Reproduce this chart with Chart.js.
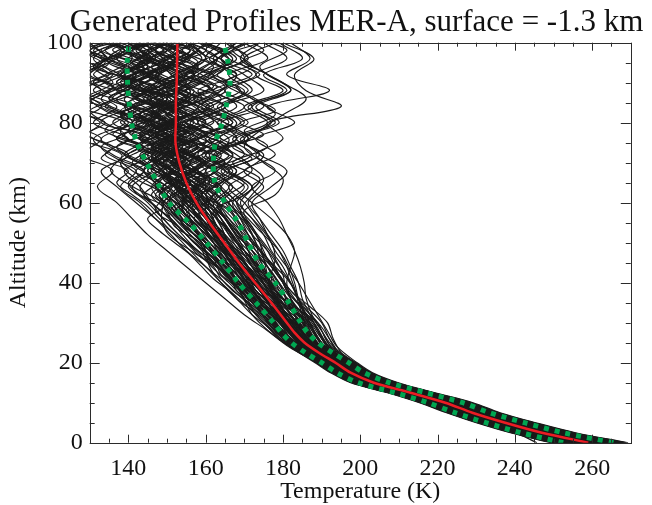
<!DOCTYPE html>
<html>
<head>
<meta charset="utf-8">
<script src="https://cdn.jsdelivr.net/npm/chart.js@4.4.1/dist/chart.umd.min.js"></script>
<style>
  html, body { margin: 0; padding: 0; background: #fff; }
  #wrap { width: 652px; height: 505px; }
</style>
</head>
<body>
<div id="wrap"><canvas id="myChart"></canvas></div>
<script>
// altitude levels (km) of the mean / sigma curves
var statAlts = [0, 2.5, 5, 7.5, 10, 12.5, 15, 17.5, 20, 22.5, 25, 27.5, 30, 35, 40, 45, 50, 55, 60, 65, 70, 75, 80, 85, 90, 95, 100];
// mean profile and mean -/+ 1 sigma (K)
var meanT = [259, 247, 237.5, 229, 222, 213, 203.5, 197.5, 193.6, 189.3, 185.6, 183, 181, 177, 172.8, 168.6, 164.8, 161, 157.6, 155, 153.2, 152.2, 152.3, 152.3, 152.5, 152.6, 152.7];
var loT = [252.5, 241.5, 232.5, 224.5, 217.5, 209, 199.5, 194, 190, 185.8, 182.2, 179.6, 177.6, 173, 168.5, 164.5, 160.2, 155.7, 150.5, 147.5, 144.7, 142.2, 140.8, 140.2, 139.8, 139.7, 140.2];
var hiT = [265.5, 252.5, 242.5, 233.5, 226.5, 217, 207.5, 201, 197, 192.8, 189, 186.4, 184.6, 181.5, 178, 173.7, 171, 168.4, 165, 162.4, 162, 162.5, 164.3, 165.5, 166.3, 165.8, 164.7];

// altitude levels (km) of the generated profiles, three sampling grids
var profAltsA = [0, 2.5, 5, 7.5, 10, 12.5, 15, 17.5, 20, 24, 28, 32, 36, 40, 44, 48, 52, 56, 60, 64, 68, 72, 76, 80, 84, 88, 92, 96, 100];
var profAltsB = [0, 2.5, 5, 7.5, 10, 12.5, 15, 17.5, 20, 22, 26, 30, 34, 38, 42, 46, 50, 54, 58, 62, 66, 70, 74, 78, 82, 86, 90, 94, 98, 100];
var profAltsC = [0, 2.5, 5, 7.5, 10, 12.5, 15, 17.5, 20, 23, 26, 29, 32, 35, 38, 41, 44, 47, 50, 53, 56, 59, 62, 65, 68, 71, 74, 77, 80, 83, 86, 89, 92, 95, 98, 100];

// generated profiles (K) on grid A
var profilesA = [
  [249.3,238.8,230,222.3,215.3,207,197.5,192.3,188.3, 181.8,176.2,172,169.8,167.4,162.7,156.2,150.4,148.6,148.5,141.2,135.4,138.3,128.2,132.7,124.8,132.9,126.5,134.4,129],
  [249.7,239.2,230.4,222.7,215.7,207.4,197.9,192.7,188.7, 182.5,178,174.5,171,166.5,163,159.5,155,151,146,143,147,139,145,136,142,131,139,146,138],
  [250.5,239.9,231,223.2,216.2,207.8,198.3,193,189, 183,178.5,175,172,169,165,160,156,153,150,155,148,143,150,141,149,156,146,140,151],
  [250.9,240.3,231.4,223.6,216.6,208.2,198.7,193.4,189.4, 184,180,176.5,173.5,170,166,162,158.5,155.5,152,147,142,149,137,144,133,140,130,137,145],
  [251.9,241,232,224,217,208.6,199.1,193.7,189.7, 183.5,179,176,172.5,168,163.5,158,154,150.5,146,140,144,136,131,139,128,135,142,133,127],
  [252.3,241.4,232.4,224.4,217.4,209,199.5,194.1,190.1, 185,181,177.5,174,171,167.5,164,160,156,152,149,155,147,158,150,162,154,147,156,149],
  [253.2,242,233,225,218,209.4,199.9,194.4,190.4, 184.5,180,176,171.5,167,164,161,157,154,151,147,152,157,149,160,153,145,152,160,155],
  [253.6,242.4,233.4,225.4,218.4,209.8,200.3,194.8,190.8, 185.5,181.5,178.5,175.5,173,170,166,161,157,154,158,152,146,154,147,139,146,154,144,150],
  [254.5,243.2,234,225.9,218.9,210.2,200.7,195.1,191, 184,179.5,175,170,166,161.5,157.5,153,149,145,141,146,139,133,141,135,127,134,141,136],
  [254.9,243.6,234.4,226.3,219.3,210.6,201.1,195.5,191.4, 186,182,179,176,172.5,169,165,163,160,157,152,159,164,156,166,158,150,160,167,159],
  [255.8,244.3,235,226.8,219.8,211,201.5,195.8,191.8, 185,181,178,175.5,173,171,168,165,161,156,152,148,155,143,150,158,148,157,151,143],
  [256.2,244.7,235.4,227.2,220.2,211.4,201.9,196.2,192.2, 186.5,183,180.5,177.5,174,171,168.5,166,163,160,164,157,161,153,146,155,162,152,146,154],
  [257,245.4,236,227.7,220.7,211.8,202.3,196.5,192.5, 185.5,181,177,173,169,164.5,161,157,152,149,154,151,147,155,145,151,157,148,155,160],
  [257.4,245.8,236.4,228.1,221.1,212.2,202.7,196.9,192.9, 187,184,182,180,178,176,174,171,168,165,161,166,160,170,163,172,165,173,166,160],
  [258.4,246.5,237,228.6,221.6,212.6,203.1,197.2,193.2, 186,181.5,178,174,170.5,166,162,158,155.5,153,150,145,152,146,157,148,137,145,152,147],
  [258.8,246.9,237.4,229,222,213,203.5,197.6,193.6, 186.5,182,179,176,173,170,167,164,160,157,153,158,151,161,155,164,170,161,168,160],
  [259.7,247.6,238,229.5,222.5,213.4,203.9,197.9,193.9, 187,183,180.5,178,175,172,170,168,165,161,157,153,160,151,162,157,150,158,163,156],
  [260.1,248,238.4,229.9,222.9,213.8,204.3,198.3,194.3, 188,184.5,181,177.5,173.5,169,165,162,159,156,162,168,160,171,164,175,169,162,171,165],
  [261,248.7,239,230.4,223.4,214.2,204.7,198.6,194.6, 187.5,183,180,176.5,172,168,164.5,161,158.5,155,151,156,150,145,153,147,140,148,143,149],
  [261.4,249.1,239.4,230.8,223.8,214.6,205.1,199,195, 189,186,184,182,180,178,176,173,170,167,164,170,175,168,178,171,182,176,169,174],
  [262.3,249.8,240,231.3,224.3,215,205.5,199.3,195.3, 188,184,181,178.5,175.5,172.5,169,165,161,158,160,156,163,158,167,160,169,163,170,166],
  [262.7,250.2,240.4,231.7,224.7,215.4,205.9,199.7,195.7, 189.5,186.5,184,181,178,174,170,167,164,160,157,162,155,150,158,152,144,152,159,153],
  [263.6,250.9,241,232.2,225.2,215.8,206.3,200,196, 189,185,182,179,176,173,170,167,164,162,166,160,167,163,171,165,175,170,164,171],
  [264,251.3,241.4,232.6,225.6,216.2,206.7,200.4,196.4, 190.5,188,186,184,182,180,177,175,172,169,172,166,161,168,158,165,155,162,151,157],
  [264.9,252,242,233.1,226.1,216.6,207.1,200.7,196.7, 189.5,185.5,182,178.5,174.5,171,167.5,164,162,160,157,163,167,160,169,164,172,167,162,168],
  [265.3,252.4,242.4,233.5,226.5,217,207.5,201.1,197.1, 190,187,184.5,182,180,177,174,171,168,166,170,164,172,167,176,170,180,173,181,175],
  [266.2,253.1,243,234,227,217.4,207.9,201.4,197.4, 190,186,183,180,177,174.5,172,169.5,167,163,160,165,159,168,163,158,165,155,160,156],
  [266.6,253.5,243.4,234.4,227.4,217.8,208.3,201.8,197.8, 191.5,189,187,185,184,182,180,177,174,171,175,170,178,173,183,176,192,181,187,182],
  [267.5,254.2,244,234.9,227.9,218.2,208.7,202.1,198.1, 191,188,185,182,179,176,173,171,169,167,171,166,174,169,179,173,182,176,170,178],
  [267.9,254.6,244.4,235.3,228.3,218.6,209.1,202.5,198.5, 192.5,190,187,184,182,179,176,172,169,166,163,168,162,171,165,159,164,168,160,164],
  [268.8,255.3,245,235.8,228.8,219,209.5,202.8,198.8, 193,190,187.5,186,185.5,184.5,183,181,179,176,172,178,173,180,176,195,186,183,188,180],
  [269.3,255.7,245.4,236.2,229.2,219.4,209.9,203.2,199.2, 194,191.5,189,186.5,184,181,178,176,174,172,177,181,174,170,177,172,181,175,185,179],
  [245.7,240,231,223,216,207.5,198,192.8,188.8, 181.5,176,170,165,160,155,150,145,141,137,132,136,128,133,125,130,124,128,134,130],
  [258.6,246.8,237.3,228.9,221.8,212.8,203.3,197.4,193.4, 188,185,183,182,181,182,183,181,177,172,167,162,157,164,152,146,153,157,149,145],
  [255.2,243.7,234.5,226.4,219.4,210.6,201.1,195.5,191.4, 184,179,174,169.5,165,160,155,151,147,143,138,142,134,140,131,137,128,135,129,137],
  [260.3,248.2,238.5,230,223,213.8,204.3,198.3,194.3, 186.5,181.5,177,172.5,168,163,158,153,149,146,143,139,146,137,145,134,142,138,146,140],
  [257.7,245.9,236.5,228.2,221.2,212.2,202.7,196.8,192.8, 185,180,175.5,171,167,163,159,155,151,149,154,147,140,148,133,141,149,138,145,140],
  [263,250.4,240.5,231.8,224.8,215.4,205.9,199.7,195.7, 188.5,184.5,181,178,175,173,170,166,164,161,163,154,151,143,150,141,150,145,137,143],
  [250.2,239.6,230.7,222.9,215.9,207.6,198.1,192.8,188.7, 182,177,173,168.5,164,160,156,152,147,142,137,133,140,131,126,133,128,136,131,138],
  [261.6,249.2,239.6,230.9,223.9,214.6,205.1,199,195, 188,185,183,180,176,171,167,162,159,157,153,149,157,160,151,161,152,145,155,148],
  [256,244.5,235.2,227,220,211.2,201.7,196,192, 186,182.5,180,178,176.5,175,172,168,165,163,167,162,170,164,156,165,158,168,161,171],
  [265,252.2,242.2,233.3,226.3,216.8,207.3,200.9,197, 190.5,187.5,185.5,184,183,181.5,179,175,171,168,172,165,158,163,168,160,153,161,166,158],
  [253.4,242.2,233.2,225.2,218.2,209.6,200.1,194.6,190.6, 184,178,173.5,168,164,161,160,158,156,155,150,144,148,152,145,150,143,139,147,142],
  [263.8,251.1,241.2,232.4,225.4,216,206.5,200.2,196.2, 189,185.5,183,181,179,176,172,169,166,163,159,157,163,166,159,168,162,157,163,168],
  [258.2,246.3,236.8,228.4,221.4,212.4,202.9,197,193, 186,181,177,173,169,165,163,161,158,155,152,149,145,151,142,150,156,145,153,147],
  [266.4,253.3,243.2,234.2,227.2,217.6,208.1,201.6,197.6, 191,188,186,184,182.5,181,179,176,173,170,166,172,168,161,170,163,171,166,176,170],
  [252.1,241.2,232.2,224.2,217.2,208.8,199.3,193.9,189.9, 183,177.5,173,170,168,165,161,156,152,149,146,150,144,150,138,146,139,144,135,141],
  [267.7,254.4,244.2,235.1,228.1,218.4,208.9,202.3,198.3, 192,189,186,183,180,177,175,173,170,168,164,160,166,156,161,170,162,172,164,174]
];

// generated profiles (K) on grid B
var profilesB = [
  [249.9,239.3,230.5,222.7,215.7,207.4,197.9,192.6,188.7, 185.5,180,177,172,169.5,164,162,157,153,147, 149,142,138,144,134,139,129,136,131,138,133],
  [250.2,239.6,230.8,223,216,207.7,198.2,192.9,189, 186,181.5,176,173.5,168,166,160,158.5,152,150, 146,151,144,137,146,140,133,141,148,140,144],
  [251.2,240.4,231.5,223.6,216.6,208.2,198.7,193.3,189.4, 186.5,181,178,174,171,168,163,160,156,151, 155,149,153,146,152,143,150,138,145,136,140],
  [251.5,240.7,231.8,223.9,216.9,208.5,199,193.6,189.7, 187,183,179.5,176,172,170,167,162,159,155, 150,147,141,148,155,147,157,150,142,150,155],
  [252.5,241.5,232.5,224.5,217.5,209,199.5,194,190.1, 187,182,179,175,172.5,169,166,163,158,155, 158,153,160,152,162,155,145,153,160,165,158],
  [252.8,241.8,232.8,224.8,217.8,209.3,199.8,194.3,190.4, 187.5,183,180,177,174,170,168,165,161,157, 152,146,150,143,138,146,135,141,132,140,136],
  [253.8,242.6,233.5,225.4,218.4,209.8,200.3,194.7,190.8, 188,183.5,181,178,174,172,169,165,163,160, 156,160,151,158,149,156,164,154,150,158,152],
  [254.1,242.9,233.8,225.7,218.7,210.1,200.6,195,191.1, 188,184,179.5,175,170,167,165,161,156,152, 148,154,159,150,145,153,142,150,157,147,150],
  [255.1,243.7,234.5,226.3,219.3,210.6,201.1,195.4,191.5, 188.5,185,182,178,173,171,168,164,161,157, 163,158,165,157,149,158,147,156,162,154,157],
  [255.4,244,234.8,226.6,219.6,210.9,201.4,195.7,191.8, 189,184,180,174,169,165,161,159,155,151, 151,155,148,153,159,150,160,166,157,164,160],
  [256.4,244.8,235.5,227.2,220.2,211.4,201.9,196.1,192.2, 189.5,185.5,182,177,171.5,169,166,163,161,159, 154,160,152,147,155,143,151,139,146,154,148],
  [256.7,245.1,235.8,227.5,220.5,211.7,202.2,196.4,192.5, 189.5,184.5,181,175,170,167,165,162,158,154, 154,150,156,149,155,145,139,148,140,146,143],
  [257.7,245.9,236.5,228.1,221.1,212.2,202.7,196.8,192.9, 190,186,183.5,179,174,172,169,166,164,162, 157,149,155,147,140,148,136,144,150,141,147],
  [258,246.2,236.8,228.4,221.4,212.5,203,197.1,193.2, 190,185,181.5,176,171,167,163,160,156,152, 159,154,149,155,146,153,147,155,149,142,147],
  [259,247,237.5,229,222,213,203.5,197.5,193.6, 190.5,186.5,183,178,173,170,167,164,162,160, 160,154,149,142,150,138,145,131,139,128,134],
  [259.3,247.3,237.8,229.3,222.3,213.3,203.8,197.8,193.9, 191,187.5,185,181,177,175,172,168,165,162, 170,174,167,176,170,178,172,165,172,167,170],
  [260.3,248.1,238.5,229.9,222.9,213.8,204.3,198.2,194.3, 191,186,182.5,177,171.5,168,164.5,161,158,154, 155,152,159,150,147,155,151,143,150,157,151],
  [260.6,248.4,238.8,230.2,223.2,214.1,204.6,198.5,194.6, 191.5,188,186,182,178,176,174,173,171,167, 158,150,156,146,153,141,149,137,144,133,138],
  [261.6,249.2,239.5,230.8,223.8,214.6,205.1,198.9,195, 191.5,187.5,184,179,174,170.5,167,165,163,160, 155,160,151,158,148,154,144,151,142,149,145],
  [261.9,249.5,239.8,231.1,224.1,214.9,205.4,199.2,195.3, 192,189,187,183.5,179,175,171,166,164,161, 155,150,145,152,140,147,135,143,131,139,134],
  [262.9,250.3,240.5,231.7,224.7,215.4,205.9,199.6,195.7, 192,188,185,180,176,174,172,170,167,163, 158,152,147,153,145,138,146,134,141,130,136],
  [263.2,250.6,240.8,232,225,215.7,206.2,199.9,196, 192.5,189,186.5,181,175,171,167.5,164,161,157, 157,161,153,148,156,150,159,153,146,152,149],
  [264.2,251.4,241.5,232.6,225.6,216.2,206.7,200.3,196.4, 193,190,188,184.5,181,179,176,172,169,166, 160,165,158,150,157,146,154,143,151,140,145],
  [264.5,251.7,241.8,232.9,225.9,216.5,207,200.6,196.7, 193,189,186,181,177,176,175,174,172,168, 163,157,151,158,148,143,150,137,145,140,147],
  [265.5,252.5,242.5,233.5,226.5,217,207.5,201,197.1, 193.5,190.5,188,183,177,173,169,166,163,161, 160,154,160,151,146,155,145,140,148,138,143],
  [265.8,252.8,242.8,233.8,226.8,217.3,207.8,201.3,197.4, 194,191,189,185,181,180,178,175,172,170, 178,180,175,170,174,180,186,180,174,181,177],
  [266.8,253.6,243.5,234.4,227.4,217.8,208.3,201.7,197.8, 194,190,187,182,178,175,172,170,167,164, 162,155,149,156,147,153,142,150,158,146,152],
  [267.1,253.9,243.8,234.7,227.7,218.1,208.6,202,198.1, 194.5,192,190,186,182,179,176,173,171,169, 172,175,170,163,168,160,152,159,165,158,162],
  [268.1,254.7,244.5,235.3,228.3,218.6,209.1,202.4,198.5, 195,192,189,183,178,177,178,177,174,170, 166,158,152,160,150,143,152,140,148,156,146],
  [268.4,255,244.8,235.6,228.6,218.9,209.4,202.7,198.8, 195.5,193,191.5,187,182,179,175,171,167,164, 165,161,156,162,154,147,155,149,158,151,154]
];

// generated profiles (K) on grid C
var profilesC = [
  [250.3,239.7,230.8,223,216,207.6,198.1,192.8,188.8, 183.5,179,176,173,171,167,164,162,158,155,151,148,145,141,137,140,133,136,129,134,127,131,136,129,133,128,131],
  [251.7,240.8,231.8,223.8,216.8,208.4,198.9,193.5,189.5, 184.5,180.5,178,175,172,169.5,166,164,161,158,155,153,150,147,151,145,148,142,146,139,144,149,143,138,145,140,143],
  [253,241.8,232.8,224.8,217.8,209.2,199.7,194.2,190.2, 185,181,178.5,176,173,170,168,165,162,160,157,154,152,149,147,151,146,150,143,147,152,145,150,155,148,153,149],
  [254.3,243,233.8,225.7,218.7,210,200.5,194.9,190.8, 185.5,181.5,179,177,175,173,171,168,164,161,158,156,153,158,153,149,155,148,143,150,146,141,147,139,144,150,145],
  [255.6,244.1,234.8,226.6,219.6,210.8,201.3,195.6,191.6, 186,182,179,176,173.5,171,168,166,163,160,157,155,152,150,147,144,149,153,147,155,149,156,150,145,152,147,150],
  [256.8,245.2,235.8,227.5,220.5,211.6,202.1,196.3,192.3, 186.5,183,181,178,176,174,172,169,167,164,162,160,158,155,160,154,150,156,151,160,153,148,156,151,158,153,149],
  [258.2,246.3,236.8,228.4,221.4,212.4,202.9,197,193, 187,183,180,177,174.5,172,169,167,165,162,160,157,154,150,152,147,143,149,141,146,138,144,136,142,135,140,137],
  [259.5,247.4,237.8,229.3,222.3,213.2,203.7,197.7,193.7, 187.5,184,181.5,179,177,175,173,171,168,166,163,161,159,156,158,154,159,153,160,155,163,157,165,159,154,160,156],
  [260.8,248.5,238.8,230.2,223.2,214,204.5,198.4,194.4, 188,184.5,182,179,176,173,170,167,165,163,161,158,155,152,155,150,147,152,145,141,148,143,138,146,141,134,138],
  [262.1,249.6,239.8,231.1,224.1,214.8,205.3,199.1,195.1, 188.5,185.5,183,181,179,177,176,174,172,169,167,165,163,160,163,158,162,166,160,167,162,157,163,158,165,160,162],
  [263.4,250.7,240.8,232,225,215.6,206.1,199.8,195.8, 189,185.5,182,179,177,175,173,170,167,165,163,160,157,154,156,152,149,153,147,152,145,150,143,148,141,146,144],
  [264.7,251.8,241.8,232.9,225.9,216.4,206.9,200.5,196.5, 190,186.5,184,182,180,178,176,174,171,168,166,163,160,158,161,157,153,158,163,157,151,156,161,154,149,153,151],
  [266,252.9,242.8,233.8,226.8,217.2,207.7,201.2,197.2, 190.5,187,185,183,181,178,175,172,170,168,166,164,162,159,163,167,161,166,159,154,160,155,162,157,151,156,153],
  [267.3,254,243.8,234.7,227.7,218,208.5,201.9,197.9, 191,188,186,184,181,178,175,172,169,166,164,161,159,162,157,153,158,152,157,150,146,152,146,141,148,143,146],
  [252.3,241.3,232.3,224.3,217.3,208.8,199.3,193.8,189.9, 184,179.5,176,172,169,166,162,159,156,152,148,145,149,143,140,144,137,133,139,134,130,136,132,128,134,130,133],
  [254.9,243.5,234.3,226.1,219.1,210.4,200.9,195.2,191.3, 185.5,182,180,178,176,174,171,167,163,160,156,153,151,148,152,146,150,144,139,146,141,137,143,138,133,139,136],
  [257.5,245.7,236.3,227.9,220.9,212,202.5,196.6,192.7, 187,183,180,177,175,172,170,168,166,164,161,157,154,151,148,151,146,149,155,148,152,158,151,147,154,149,152],
  [260.1,247.9,238.3,229.7,222.7,213.6,204.1,198,194.1, 188,185,183,180,177,175,172,169,166,163,160,157,160,156,151,156,150,145,151,146,140,147,143,137,143,140,145],
  [262.7,250.1,240.3,231.5,224.5,215.2,205.7,199.4,195.5, 189,186,184,183,181,180,178,176,173,170,167,165,162,159,156,160,155,150,156,151,146,153,148,155,150,145,148],
  [265.3,252.3,242.3,233.3,226.3,216.8,207.3,200.8,196.9, 190.5,188,186,185,184,183,181,178,175,172,169,166,163,166,170,165,172,167,175,169,178,172,168,174,169,175,172],
  [253.6,242.4,233.3,225.2,218.2,209.6,200.1,194.5,190.6, 184.5,180,177,175,172,169,167,164,161,157,154,151,147,144,147,141,138,143,136,140,134,130,136,131,135,131,134],
  [258.8,246.8,237.3,228.8,221.8,212.8,203.3,197.3,193.4, 187.5,184,181.5,178.5,176,173,170,168,166,164,161,158,155,153,156,151,155,149,154,146,150,156,149,154,148,143,146],
  [261.4,249,239.3,230.6,223.6,214.4,204.9,198.7,194.8, 188.5,185,182.5,180,178,176,174,172,170,168,166,163,160,156,153,157,150,154,147,152,157,150,155,161,154,158,155],
  [264,251.2,241.3,232.4,225.4,216,206.5,200.1,196.2, 189.5,186.5,184,181,178,175,172,169,167,165,163,162,164,160,157,163,158,154,160,155,149,155,150,157,151,147,150]
];

// labelled temperature ticks
var xTicksMajor = [140, 160, 180, 200, 220, 240, 260];
var chartTitle = 'Generated Profiles MER-A, surface = -1.3 km';

var serif = '"Liberation Serif", "Times New Roman", serif';
var ink = '#2b2b2b';

function toPoints(temps, levels) {
    return temps.map(function (t, i) { return { x: t, y: levels[i] }; });
}

// IDL style frame with inward ticks on all four sides, plus the title
var frameTicks = {
    id: 'frameTicks',
    afterDraw: function (chart) {
        var ctx = chart.ctx, a = chart.chartArea;
        var xs = chart.scales.x, ys = chart.scales.y;
        ctx.save();
        ctx.strokeStyle = ink;
        ctx.lineWidth = 1;
        ctx.strokeRect(Math.round(a.left) + 0.5, Math.round(a.top) + 0.5,
            Math.round(a.right - a.left), Math.round(a.bottom - a.top));
        ctx.beginPath();
        for (var v = 130; v <= 270; v += 5) {
            var px = Math.round(xs.getPixelForValue(v)) + 0.5;
            var len = (v % 20 === 0) ? 8 : 4;
            ctx.moveTo(px, a.bottom); ctx.lineTo(px, a.bottom - len);
            ctx.moveTo(px, a.top); ctx.lineTo(px, a.top + len);
        }
        for (var w = 0; w <= 100; w += 5) {
            var py = Math.round(ys.getPixelForValue(w)) + 0.5;
            var l2 = (w % 20 === 0) ? 10 : 5;
            ctx.moveTo(a.left, py); ctx.lineTo(a.left + l2, py);
            ctx.moveTo(a.right, py); ctx.lineTo(a.right - l2, py);
        }
        ctx.stroke();

        ctx.fillStyle = '#111';
        ctx.font = '31px ' + serif;
        ctx.textAlign = 'center';
        ctx.textBaseline = 'alphabetic';
        ctx.fillText(chartTitle, 356.5, 31);
        ctx.restore();
    }
};

var datasets = [];
datasets.push({ data: toPoints(loT, statAlts), borderColor: '#00a651', borderWidth: 5, borderDash: [5, 6], tension: 0.3, order: 0 });
datasets.push({ data: toPoints(hiT, statAlts), borderColor: '#00a651', borderWidth: 5, borderDash: [5, 6], tension: 0.3, order: 0 });
datasets.push({ data: toPoints(meanT, statAlts), borderColor: '#ec1c24', borderWidth: 2.5, tension: 0.3, order: 1 });
[[profilesA, profAltsA], [profilesB, profAltsB], [profilesC, profAltsC]].forEach(function (g) {
    g[0].forEach(function (p) {
        datasets.push({ data: toPoints(p, g[1]), borderColor: '#1a1a1a', borderWidth: 1.15, tension: 0.35, order: 2 });
    });
});

new Chart(document.getElementById('myChart'), {
    type: 'line',
    data: { datasets: datasets },
    options: {
        responsive: true,
        maintainAspectRatio: false,
        animation: false,
        parsing: false,
        layout: { padding: { left: 0, right: 21.2, top: 42.7, bottom: 0 } },
        elements: { point: { radius: 0 } },
        datasets: { line: { clip: 0, fill: false } },
        plugins: {
            legend: { display: false },
            tooltip: { enabled: false },
            title: { display: false }
        },
        scales: {
            x: {
                type: 'linear',
                min: 130, max: 270,
                grid: { display: false, drawTicks: false },
                border: { display: false },
                afterBuildTicks: function (s) {
                    s.ticks = xTicksMajor.map(function (v) { return { value: v }; });
                },
                ticks: {
                    padding: 12,
                    color: '#111',
                    maxRotation: 0,
                    autoSkip: false,
                    font: { family: serif, size: 24 }
                },
                title: {
                    display: true, text: 'Temperature (K)', color: '#111',
                    font: { family: serif, size: 24, lineHeight: 1 }, padding: { top: 0, bottom: 1 }
                },
                afterFit: function (s) { s.height = 62.3; }
            },
            y: {
                type: 'linear',
                min: 0, max: 100,
                grid: { display: false, drawTicks: false },
                border: { display: false },
                ticks: {
                    stepSize: 20,
                    padding: 7,
                    color: '#111',
                    font: { family: serif, size: 24 }
                },
                title: {
                    display: true, text: 'Altitude (km)', color: '#111',
                    font: { family: serif, size: 24 }, padding: { top: 4, bottom: 0 }
                },
                afterFit: function (s) { s.width = 89.7; }
            }
        }
    },
    plugins: [frameTicks]
});
</script>
</body>
</html>
